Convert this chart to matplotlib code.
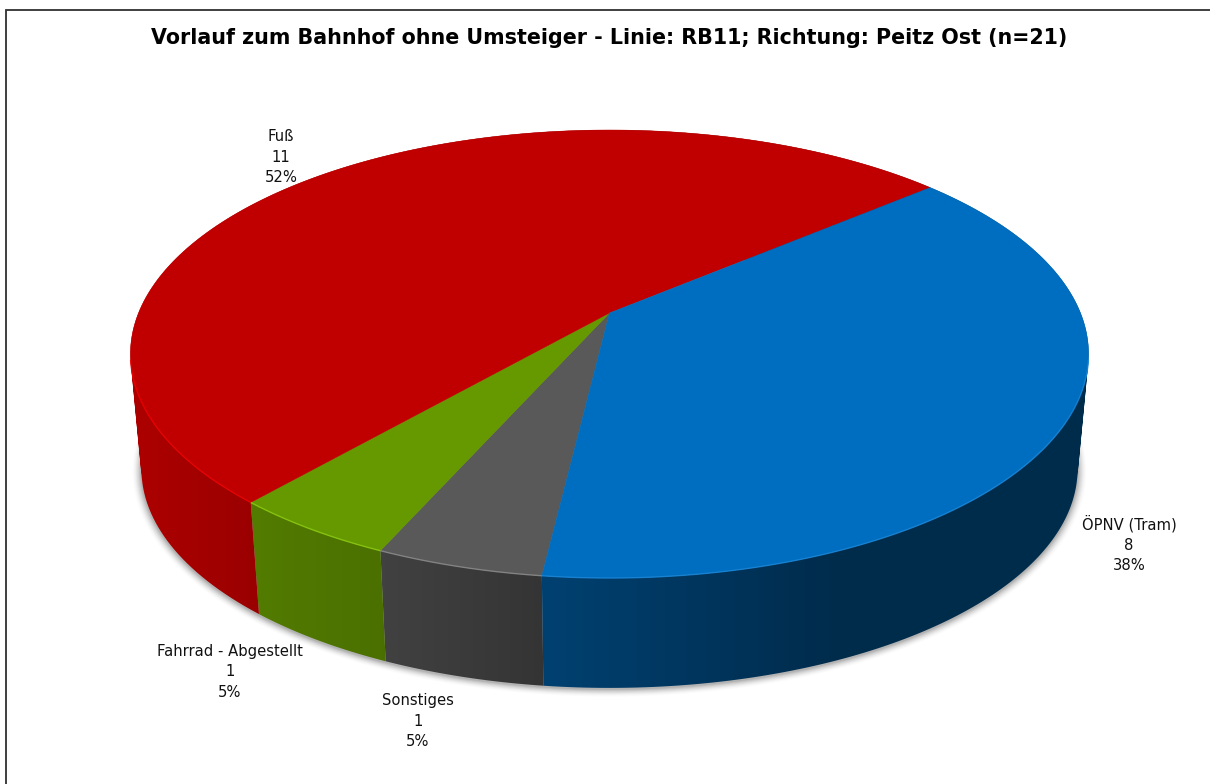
import numpy as np
import matplotlib
matplotlib.use('Agg')
from matplotlib import pyplot as plt
from matplotlib.patches import Polygon, Rectangle
from matplotlib.path import Path

# slices in drawing order, going clockwise from the front of the pie
categories = ['Sonstiges', 'Fahrrad - Abgestellt', 'Fuß', 'ÖPNV (Tram)']
counts = [1, 1, 11, 8]
top_colors = ['#595959', '#669900', '#C00000', '#006EC0']
rim_colors = ['#8c8c8c', '#8ccc10', '#f00000', '#1a86d8']
label_xy = [(418, 721), (230, 672), (281, 157), (1129, 544)]

title = 'Vorlauf zum Bahnhof ohne Umsteiger - Linie: RB11; Richtung: Peitz Ost (n=21)'

# pie geometry in pixels, the tilt is a small perspective on a unit circle
cx, cy = 609.5, 313.
a, b, k = 471., 216.5, 0.183
start_deg = 6.75
base_dy, base_scale = 116., 0.977

# darkening of the side wall along the picture's x axis
shade_x = [131, 250, 385, 541, 830, 1090]
shade_f = [.90, .81, .73, .59, .40, .40]


def top_xy(theta):
    u, v = np.sin(theta), np.cos(theta)
    w = 1 - k*v
    return cx - a*u/w, cy + b*v/w


def base_xy(theta):
    x, y = top_xy(theta)
    return cx + (x-cx)*base_scale, cy + base_dy + (y-cy)*base_scale


def wall_path(theta):
    # rim quads all turned the same way, so the fill is their union
    x0, y0 = top_xy(theta)
    x1, y1 = base_xy(theta)
    verts = []
    codes = []
    for j in range(len(theta)-1):
        q = np.array([(x0[j], y0[j]), (x0[j+1], y0[j+1]), (x1[j+1], y1[j+1]), (x1[j], y1[j])])
        area = np.sum(q[:, 0]*np.roll(q[:, 1], -1) - np.roll(q[:, 0], -1)*q[:, 1])
        if area < 0:
            q = q[::-1]
        verts += list(q) + [q[0]]
        codes += [Path.MOVETO, Path.LINETO, Path.LINETO, Path.LINETO, Path.CLOSEPOLY]
    return Path(np.array(verts), codes)


fig = plt.figure(figsize=(12.1, 7.84), dpi=100)
ax = fig.add_axes([0, 0, 1, 1])
ax.axis('off')

ax.add_patch(Rectangle((5.5, 10), 1400, 1000, fc='white', ec='#303030', lw=1.3, zorder=0))

# soft shadow under the base
ring = np.linspace(0, 2*np.pi, 400)
bx, by = base_xy(ring)
grows = np.arange(9, 0, -1)
alphas = [.01, .015, .02, .03, .035, .04, .05, .06, .07]
for grow, alpha in zip(grows, alphas):
    sx = cx + (bx-cx)*(1 + grow/470.)
    sy = cy + base_dy + 1 + (by-cy-base_dy)*(1 + grow/300.)
    ax.add_patch(Polygon(np.c_[sx, sy], closed=True, fc='black', ec='none', alpha=alpha, zorder=1))

total = sum(counts)
edges = np.radians(start_deg + 360*np.cumsum([0] + counts)/total)

# side wall first, the top face hides what is at the back
grad_x = np.arange(120, 1100)
for i in range(len(counts)):
    th = np.linspace(edges[i], edges[i+1], 160)
    rgb = np.array(matplotlib.colors.to_rgb(top_colors[i]))
    grad = np.interp(grad_x, shade_x, shade_f)[None, :, None]*rgb[None, None, :]
    im = ax.imshow(grad, extent=(120, 1100, 720, 120), aspect='auto', zorder=2,
                   interpolation='bilinear')
    im.set_clip_path(wall_path(th), transform=ax.transData)

for i in range(len(counts)):
    th = np.linspace(edges[i], edges[i+1], 200)
    x0, y0 = top_xy(th)
    pts = np.r_[[[cx, cy]], np.c_[x0, y0]]
    ax.add_patch(Polygon(pts, closed=True, fc=top_colors[i], ec=top_colors[i], lw=.3, zorder=3))
    # thin light line along the front rim only
    front = y0 > cy + 45
    ax.plot(x0[front], y0[front], color=rim_colors[i], lw=1., alpha=.8,
            solid_capstyle='butt', zorder=4)

    pct = round(100*counts[i]/total)
    ax.text(label_xy[i][0], label_xy[i][1], f'{categories[i]}\n{counts[i]}\n{pct}%',
            ha='center', va='center', fontsize=10.6, family='DejaVu Sans',
            color='#111111', linespacing=1.45, zorder=5)

ax.text(609.5, 38, title, ha='center', va='center', fontsize=14.9, fontweight='bold',
        family='DejaVu Sans', color='black', zorder=5)

ax.set_xlim(0, 1210)
ax.set_ylim(784, 0)

fig.savefig('out.png', dpi=100)
